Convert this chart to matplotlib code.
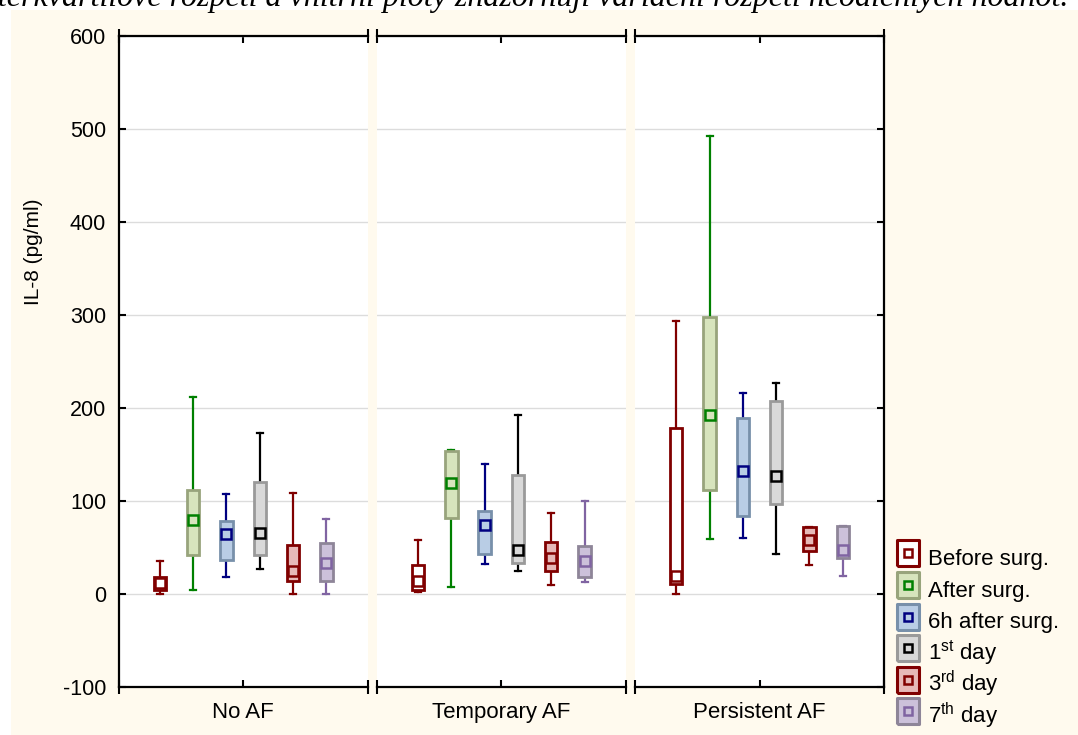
"""IL-8 box plots by AF group and sampling time."""

import matplotlib

matplotlib.use("Agg")
import matplotlib.pyplot as plt  # noqa: E402
from matplotlib.lines import Line2D  # noqa: E402
from matplotlib.patches import Rectangle  # noqa: E402

GROUPS = ["No AF", "Temporary AF", "Persistent AF"]
SERIES = [
    "Before surg.",
    "After surg.",
    "6h after surg.",
    r"1$^{\mathrm{st}}$ day",
    r"3$^{\mathrm{rd}}$ day",
    r"7$^{\mathrm{th}}$ day",
]

# one list per series, one value per group (No AF, Temporary AF, Persistent AF)
MINS = [
    [0, 2, 0],
    [4, 7.5, 59],
    [18, 32, 60],
    [27, 24.5, 43],
    [0, 9.5, 31],
    [0, 12.5, 19.5],
]
Q1 = [
    [4, 4, 10.5],
    [42, 82, 112],
    [37, 43, 84],
    [42, 33, 97],
    [14, 24.5, 46],
    [14, 18, 38.5],
]
MEDIANS = [
    [12, 14, 19],
    [80, 119, 193],
    [64, 74, 132],
    [66, 47, 127],
    [25, 38.5, 58],
    [33, 36, 47],
]
Q3 = [
    [18, 31.6, 179],
    [112, 154, 298],
    [78, 89, 189],
    [120, 128, 208],
    [53, 56, 72],
    [55, 52, 73],
]
MAXS = [
    [35, 58, 294],
    [212, 155, 492],
    [107, 140, 216],
    [173, 193, 227],
    [109, 87, 72],
    [81, 100, 73],
]
Y_TICKS = [-100, 0, 100, 200, 300, 400, 500, 600]

FILL = ["#FFFFFF", "#D7E4BD", "#B9CDE5", "#D9D9D9", "#E6B9B8", "#CCC1DA"]
EDGE = ["#800000", "#98A47C", "#7890AA", "#9A9A9A", "#800000", "#8E8598"]
WHISKER = ["#800000", "#008000", "#000080", "#000000", "#800000", "#8064A2"]

CREAM = "#FFFAEE"
W, H = 1078, 735

# upright rectangle used as the legend swatch
SWATCH = [(-0.42, -0.5), (0.42, -0.5), (0.42, 0.5), (-0.42, 0.5), (-0.42, -0.5)]


def main() -> None:
    plt.rcParams["font.family"] = ["Liberation Sans", "DejaVu Sans"]
    plt.rcParams["mathtext.fontset"] = "custom"
    plt.rcParams["mathtext.rm"] = "Liberation Sans"
    plt.rcParams["axes.unicode_minus"] = False

    fig = plt.figure(figsize=(W / 100, H / 100), dpi=100, facecolor="white")
    fig.add_artist(
        Rectangle((11 / W, 0), 1, (H - 10) / H, transform=fig.transFigure,
                  facecolor=CREAM, edgecolor="none", zorder=-10)
    )
    # caption line cut by the top edge, as in the source page
    fig.text(
        1068 / W, 1 - 6 / H,
        "interkvartilové rozpětí a vnitřní ploty znázorňují variační rozpětí neodlehlých hodnot.",
        ha="right", va="baseline", fontsize=23,
        family=["Liberation Serif", "DejaVu Serif"], style="italic",
    )

    panel_w, gap = 249.2, 9.0
    bottom, top = 687, 36
    n = len(SERIES)
    positions = [0.5 + (i - (n - 1) / 2) * 0.1336 for i in range(n)]

    axes = []
    for g, group in enumerate(GROUPS):
        left = 118.5 + g * (panel_w + gap)
        ax = fig.add_axes([left / W, (H - bottom) / H, panel_w / W, (bottom - top) / H])
        ax.set_facecolor("white")
        axes.append(ax)

        for s in range(n):
            stats = [{
                "med": MEDIANS[s][g], "q1": Q1[s][g], "q3": Q3[s][g],
                "whislo": MINS[s][g], "whishi": MAXS[s][g], "fliers": [],
            }]
            ax.bxp(
                stats, positions=[positions[s]], widths=0.05, capwidths=0.024,
                patch_artist=True, showfliers=False, manage_ticks=False,
                boxprops={"facecolor": FILL[s], "edgecolor": EDGE[s],
                          "linewidth": 2.0, "zorder": 3},
                whiskerprops={"color": WHISKER[s], "linewidth": 1.6, "zorder": 2},
                capprops={"color": WHISKER[s], "linewidth": 1.6, "zorder": 2},
                medianprops={"linewidth": 0},
            )
            ax.plot([positions[s]], [MEDIANS[s][g]], marker="s", markersize=6.5,
                    markerfacecolor=FILL[s], markeredgecolor=WHISKER[s],
                    markeredgewidth=1.8, linestyle="none", zorder=4)

        ax.set_xlim(0, 1)
        ax.set_ylim(-100, 600)
        ax.set_yticks(Y_TICKS)
        ax.yaxis.grid(True, color="#DCDCDC", linewidth=1.0)
        ax.set_axisbelow(True)

        ax.set_xticks([0.5], [group])
        ax.set_xticks([0, 1], minor=True)
        ax.tick_params(axis="x", which="major", direction="in", length=5, width=1.5,
                       top=True, labelsize=16, pad=11)
        ax.tick_params(axis="x", which="minor", direction="inout", length=10, width=1.5,
                       top=True)

        for spine in ax.spines.values():
            spine.set_linewidth(1.6)
            spine.set_color("black")
        ax.spines["left"].set_visible(g == 0)
        ax.spines["right"].set_visible(g == len(GROUPS) - 1)

        ax.tick_params(axis="y", direction="in", length=5, width=1.5, labelsize=15.5,
                       pad=9, left=(g == 0), labelleft=(g == 0),
                       right=(g == len(GROUPS) - 1), labelright=False)

    axes[0].set_ylabel("IL-8 (pg/ml)", fontsize=15, va="center")
    axes[0].yaxis.set_label_coords(-0.343, 0.669)

    handles = [
        (Line2D([], [], marker=SWATCH, markersize=18.5, markerfacecolor=FILL[s],
                markeredgecolor=EDGE[s], markeredgewidth=2.2, linestyle="none"),
         Line2D([], [], marker="s", markersize=5.5, markerfacecolor=FILL[s],
                markeredgecolor=WHISKER[s], markeredgewidth=1.8, linestyle="none"))
        for s in range(n)
    ]
    fig.legend(
        handles, SERIES, loc="upper left", bbox_to_anchor=(897 / W, 1 - 542 / H),
        frameon=False, fontsize=16, handlelength=0.95, handleheight=1.81,
        handletextpad=0.45, labelspacing=0.0, borderaxespad=0, borderpad=0,
    )

    fig.savefig("out.png", dpi=100)
    plt.close(fig)


if __name__ == "__main__":
    main()
